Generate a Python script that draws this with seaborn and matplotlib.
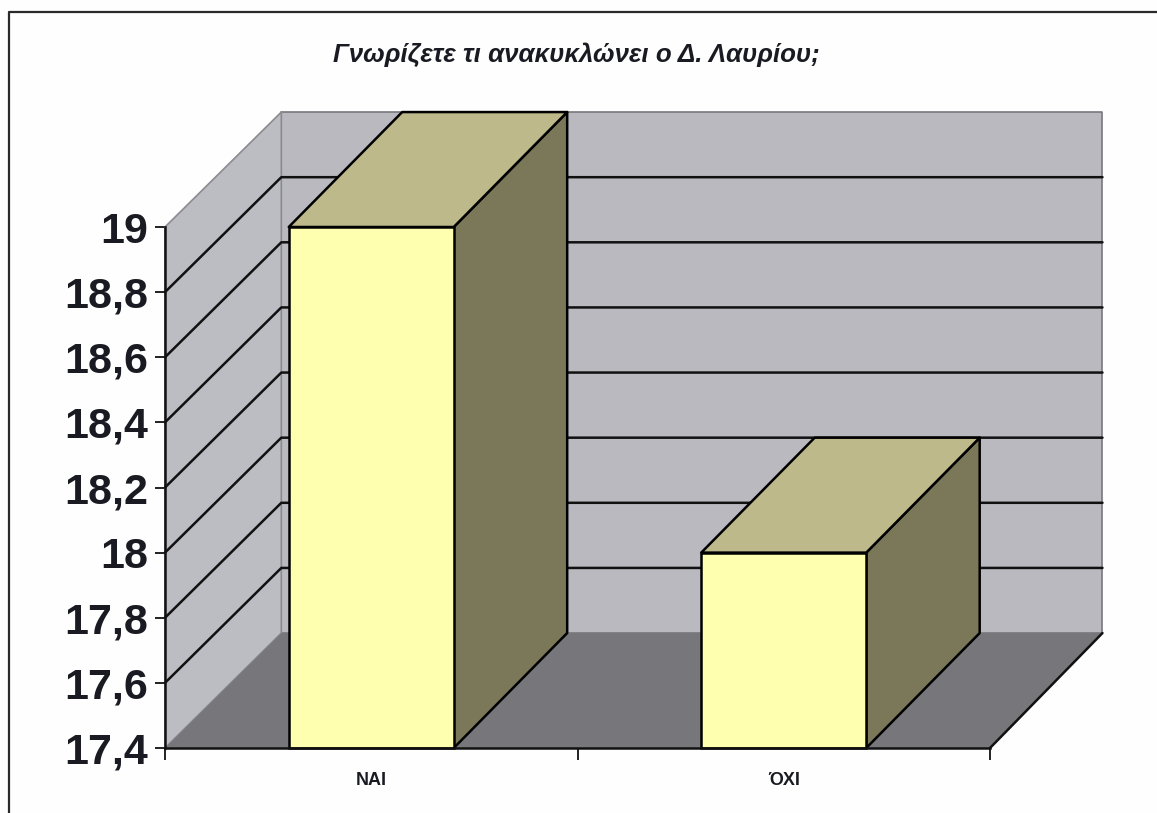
import pandas as pd
import seaborn as sns
import matplotlib.pyplot as plt
from matplotlib.patches import Polygon
from matplotlib.lines import Line2D

sns.set_theme(style="white")
plt.rcParams['font.family'] = ['Liberation Sans', 'DejaVu Sans']

# values
categories = ['ΝΑΙ', 'ΌΧΙ']
values = [19, 18]
y_ticks = [17.4, 17.6, 17.8, 18, 18.2, 18.4, 18.6, 18.8, 19]
y_labels = ['17,4', '17,6', '17,8', '18', '18,2', '18,4', '18,6', '18,8', '19']
title = 'Γνωρίζετε τι ανακυκλώνει ο Δ. Λαυρίου;'

# 3d look: how far the back wall sits from the front plane, in data units
depth_x = 0.275
depth_y = 0.353
wall_inset = 0.007

PAPER = '#fdfefd'
WALL = '#b9b9bf'
SIDE_WALL = '#bcbcc3'
FLOOR = '#77777b'
BAR_FRONT = '#ffffb0'
BAR_TOP = '#bdb98a'
BAR_SIDE = '#7a7858'

fig = plt.figure(figsize=(11.57, 8.13), dpi=100, facecolor=PAPER)
ax = fig.add_axes([165 / 1157, 1 - 748 / 813, 825 / 1157, 521 / 813])
ax.set_facecolor('none')

df = pd.DataFrame({'answer': categories, 'count': values})
sns.barplot(data=df, x='answer', y='count', width=0.4, color=BAR_FRONT, saturation=1,
            edgecolor='black', linewidth=1.8, zorder=5, ax=ax)

xmin, xmax = -0.5, 1.5
ymin, ymax = y_ticks[0], y_ticks[-1]
ax.set_xlim(xmin, xmax)
ax.set_ylim(ymin, ymax)
wall_left = xmin + depth_x + wall_inset
wall_right = xmax + depth_x - wall_inset / 3


def face(points, color, edge='none', z=1, lw=1.8):
    ax.add_patch(Polygon(points, closed=True, facecolor=color, edgecolor=edge,
                         linewidth=lw, zorder=z, clip_on=False, joinstyle='round'))


# back wall, left wall, floor
face([(wall_left, ymin + depth_y), (wall_right, ymin + depth_y),
      (wall_right, ymax + depth_y), (wall_left, ymax + depth_y)], WALL, '#77777d', 1, 1.2)
face([(xmin, ymin), (wall_left, ymin + depth_y),
      (wall_left, ymax + depth_y), (xmin, ymax)], SIDE_WALL, '#8a8a90', 1, 1.2)
face([(xmin, ymin), (xmax, ymin), (wall_right, ymin + depth_y),
      (wall_left, ymin + depth_y)], FLOOR, z=2)
ax.plot([xmax, wall_right], [ymin, ymin + depth_y], color='#111111', lw=1.8,
        clip_on=False, zorder=3)

# gridlines run across the left wall, then along the back wall
for t in y_ticks[1:-1]:
    ax.plot([xmin, wall_left, wall_right], [t, t + depth_y, t + depth_y],
            color='#111111', lw=1.8, clip_on=False, zorder=3)

# front faces come from seaborn, side and top are built on them
for bar, v in zip(ax.patches[:len(values)], values):
    x0 = bar.get_x()
    x1 = x0 + bar.get_width()
    bar.set_y(ymin)
    bar.set_height(v - ymin)
    bar.set_clip_on(False)
    face([(x1, ymin), (x1 + depth_x, ymin + depth_y), (x1 + depth_x, v + depth_y), (x1, v)],
         BAR_SIDE, 'black', 4)
    face([(x0, v), (x1, v), (x1 + depth_x, v + depth_y), (x0 + depth_x, v + depth_y)],
         BAR_TOP, 'black', 4)

ax.set_xlabel('')
ax.set_ylabel('')
ax.set_yticks(y_ticks)
ax.set_yticklabels(y_labels, fontsize=31, fontweight='bold', color='#1a1a22')
ax.set_xticks(range(len(categories)))
ax.set_xticklabels(categories, fontsize=13, fontweight='bold', color='#1a1a22')
ax.set_xticks([-0.5, 0.5, 1.5], minor=True)
ax.tick_params(axis='x', which='major', length=0, pad=17)
ax.tick_params(axis='x', which='minor', length=8.5, width=1.4, color='#222222', bottom=True)
ax.tick_params(axis='y', length=7, width=1.4, color='#222222', left=True, pad=5)

sns.despine(ax=ax, top=True, right=True)
for side in ['left', 'bottom']:
    ax.spines[side].set_color('#111111')
    ax.spines[side].set_linewidth(1.8)
    ax.spines[side].set_zorder(6)

fig.text(576 / 1157, 1 - 55 / 813, title, ha='center', va='center', fontsize=18.6,
         fontweight='bold', fontstyle='italic', color='#1a1a22')

# border of the pasted chart, only the left and top survive in the scan
fig.add_artist(Line2D([9 / 1157, 9 / 1157, 1], [0, 1 - 12 / 813, 1 - 12 / 813],
                      color='#2a2a2a', lw=1.6))

fig.savefig('out.png', dpi=100, facecolor=PAPER)
